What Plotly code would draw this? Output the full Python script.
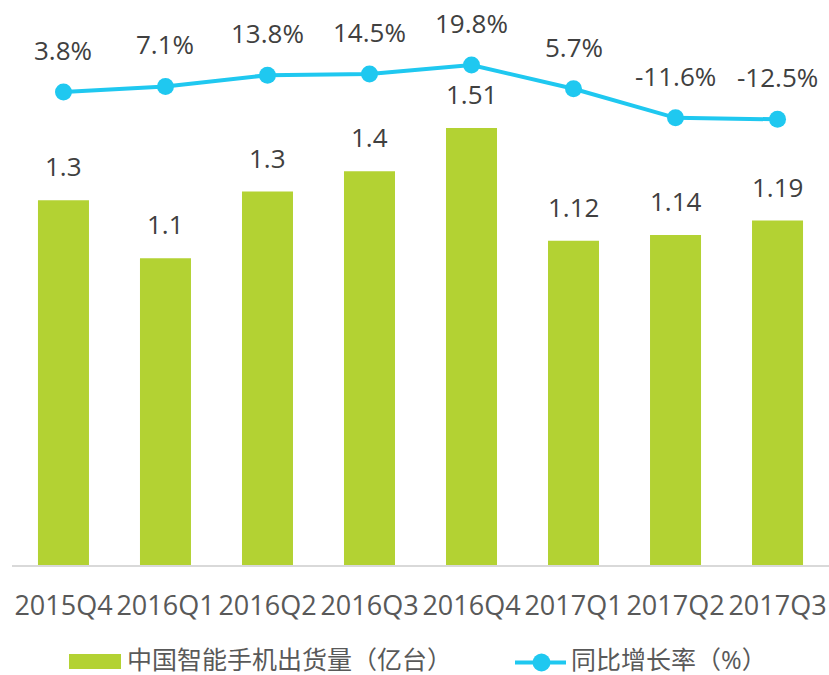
import plotly.graph_objects as go

# ---------------- data ----------------
categories = ["2015Q4", "2016Q1", "2016Q2", "2016Q3", "2016Q4", "2017Q1", "2017Q2", "2017Q3"]
shipments = [1.26, 1.06, 1.29, 1.36, 1.51, 1.12, 1.14, 1.19]          # bar heights as drawn
shipment_labels = ["1.3", "1.1", "1.3", "1.4", "1.51", "1.12", "1.14", "1.19"]
growth = [3.8, 7.1, 13.8, 14.5, 19.8, 5.7, -11.6, -12.5]
growth_labels = ["3.8%", "7.1%", "13.8%", "14.5%", "19.8%", "5.7%", "-11.6%", "-12.5%"]
bar_name = "中国智能手机出货量（亿台）"
line_name = "同比增长率（%）"

# ---------------- style ----------------
BAR_COLOR = "#B3D233"
LINE_COLOR = "#1FC8F0"
LABEL_COLOR = "#404040"
TICK_COLOR = "#595959"
FONT = "Open Sans, Noto Sans CJK SC, sans-serif"

W, H = 829, 675
ML, MR, MT, MB = 12, 0, 0, 110
PW, PH = W - ML - MR, H - MT - MB


def px_x(px):
    return (px - ML) / PW


def px_y(py):
    return (H - MB - py) / PH


fig = go.Figure()
fig.add_trace(go.Bar(
    x=categories, y=shipments, name=bar_name,
    marker=dict(color=BAR_COLOR, line=dict(width=0)),
    showlegend=False, hoverinfo="skip",
))
fig.add_trace(go.Scatter(
    x=categories, y=growth, name=line_name, yaxis="y2",
    mode="lines+markers",
    line=dict(color=LINE_COLOR, width=4),
    marker=dict(color=LINE_COLOR, size=17),
    showlegend=False, hoverinfo="skip",
))

annotations = []
for c, v, t in zip(categories, shipments, shipment_labels):
    annotations.append(dict(x=c, y=v, xref="x", yref="y", text=t, showarrow=False,
                            yanchor="middle", yshift=34,
                            font=dict(size=26, color=LABEL_COLOR, family=FONT)))
for c, v, t in zip(categories, growth, growth_labels):
    annotations.append(dict(x=c, y=v, xref="x", yref="y2", text=t, showarrow=False,
                            yanchor="middle", yshift=42,
                            font=dict(size=26, color=LABEL_COLOR, family=FONT)))

# manual legend
annotations.append(dict(x=px_x(126), y=px_y(659), xref="paper", yref="paper",
                        text=bar_name, showarrow=False, xanchor="left", yanchor="middle",
                        borderpad=0,
                        font=dict(size=25, color=TICK_COLOR, family=FONT)))
annotations.append(dict(x=px_x(570), y=px_y(659), xref="paper", yref="paper",
                        text=line_name, showarrow=False, xanchor="left", yanchor="middle",
                        borderpad=0,
                        font=dict(size=25, color=TICK_COLOR, family=FONT)))

shapes = [
    dict(type="rect", xref="paper", yref="paper",
         x0=px_x(69), x1=px_x(121), y0=px_y(669), y1=px_y(654),
         fillcolor=BAR_COLOR, line=dict(width=0)),
    dict(type="line", xref="paper", yref="paper",
         x0=px_x(515), x1=px_x(566), y0=px_y(662.5), y1=px_y(662.5),
         line=dict(color=LINE_COLOR, width=4)),
    dict(type="circle", xref="paper", yref="paper",
         x0=px_x(532.5), x1=px_x(550.5), y0=px_y(671.5), y1=px_y(653.5),
         fillcolor=LINE_COLOR, line=dict(width=0)),
]

fig.update_layout(
    width=W, height=H,
    margin=dict(l=ML, r=MR, t=MT, b=MB),
    paper_bgcolor="white", plot_bgcolor="white",
    bargap=0.5,
    font=dict(family=FONT, color=TICK_COLOR),
    xaxis=dict(
        type="category", showgrid=False, zeroline=False,
        showline=True, linecolor="#D9D9D9", linewidth=1.5,
        ticks="", tickfont=dict(size=27, color=TICK_COLOR, family=FONT),
        ticklabelstandoff=16,
    ),
    yaxis=dict(range=[0, 1.952], visible=False, showgrid=False, zeroline=False),
    yaxis2=dict(range=[-277.6, 58.5], overlaying="y", side="right",
                visible=False, showgrid=False, zeroline=False),
    annotations=annotations,
    shapes=shapes,
)

fig.write_html("out.html",
               config={"displayModeBar": False},
               post_script="document.body.style.margin='0';document.body.style.padding='0';"
                           "document.body.style.overflow='hidden';")
